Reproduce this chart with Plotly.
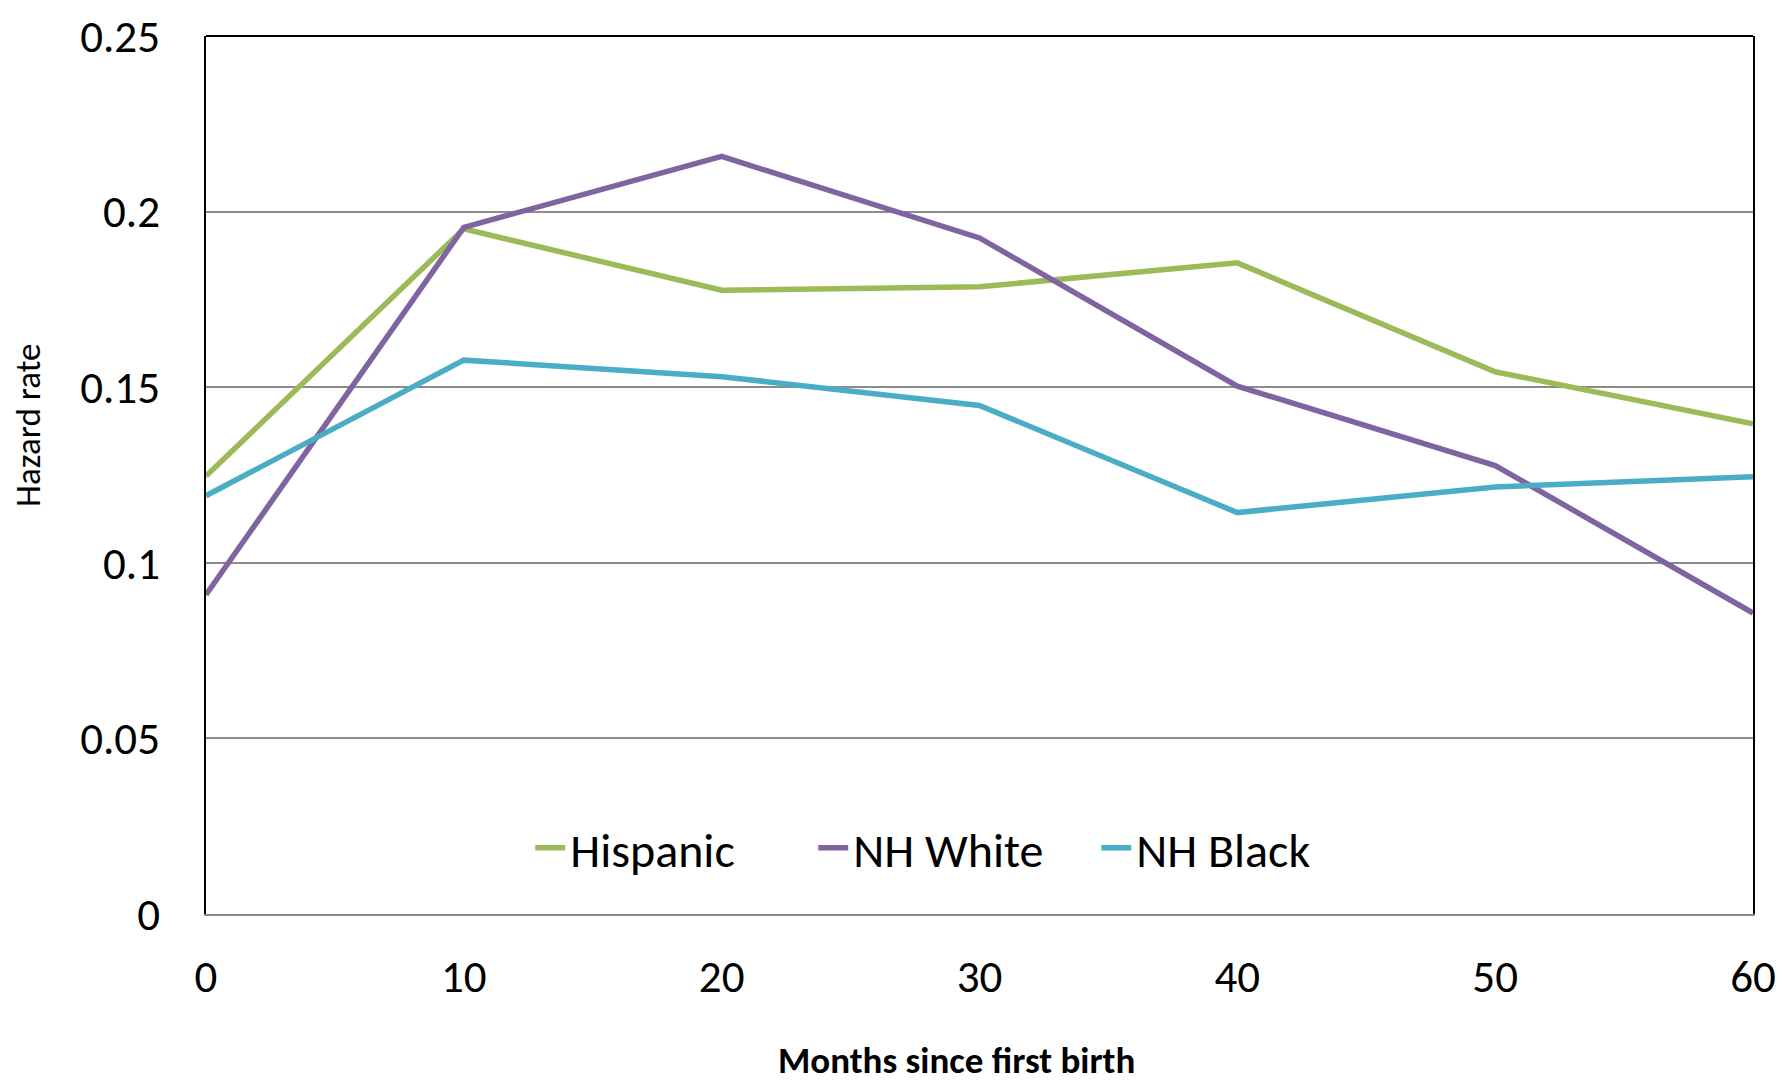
import plotly.graph_objects as go

months = [0, 10, 20, 30, 40, 50, 60]
hispanic = [0.1247, 0.1951, 0.1776, 0.1786, 0.1854, 0.1544, 0.1396]
nh_white = [0.0909, 0.1955, 0.2157, 0.1925, 0.1503, 0.1277, 0.0857]
nh_black = [0.1191, 0.1577, 0.1530, 0.1448, 0.1143, 0.1216, 0.1245]

series_names = ["Hispanic", "NH White", "NH Black"]
series_colors = ["#9BBB59", "#8064A2", "#4BACC6"]
y_ticks = [0, 0.05, 0.1, 0.15, 0.2, 0.25]
y_ticktext = ["0", "0.05", "0.1", "0.15", "0.2", "0.25"]

FONT = "Carlito, Lato, sans-serif"

# page body has an 8px margin; compensate so the figure fits the 1785x1084 window
W, H = 1777, 1076
T = 28
PLOT_H = 878

fig = go.Figure()
for name, vals, col in zip(series_names, [hispanic, nh_white, nh_black], series_colors):
    fig.add_trace(go.Scatter(x=months, y=vals, mode="lines", name=name,
                             line=dict(color=col, width=5.5)))

fig.update_layout(
    width=W, height=H,
    margin=dict(l=198, r=W - 198 - 1547, t=T, b=H - T - PLOT_H),
    paper_bgcolor="white", plot_bgcolor="white",
    font=dict(family=FONT, size=45, color="black"),
    showlegend=True,
    legend=dict(orientation="h", x=0.484, xanchor="center", y=0.075, yanchor="middle",
                font=dict(size=48, family=FONT), bgcolor="rgba(0,0,0,0)",
                itemwidth=30, entrywidth=238, entrywidthmode="pixels"),
    xaxis=dict(range=[0, 60], tickvals=months, ticktext=[str(m) for m in months],
               showgrid=False, zeroline=False, automargin=False,
               showline=True, linecolor="#888888", linewidth=2,
               ticks="", ticklabelstandoff=22, ticklabeloverflow="allow"),
    yaxis=dict(range=[0, 0.25], tickvals=y_ticks, ticktext=y_ticktext,
               showgrid=True, gridcolor="#8C8C8C", gridwidth=1.5, automargin=False,
               zeroline=False, showline=True, linecolor="black", linewidth=2, mirror=True,
               ticks="", ticklabelstandoff=35, ticklabeloverflow="allow"),
    annotations=[
        dict(text="<b>Months since first birth</b>", xref="paper", yref="paper",
             x=0.485, y=-0.1663, xanchor="center", yanchor="middle", showarrow=False,
             font=dict(size=37, family=FONT)),
        dict(text="Hazard rate", xref="paper", yref="paper", textangle=-90,
             x=-0.1151, y=0.557, xanchor="center", yanchor="middle", showarrow=False,
             font=dict(size=35, family=FONT)),
    ],
)

fig.add_shape(type="line", xref="paper", yref="paper", x0=0, x1=1, y0=1, y1=1,
              line=dict(color="black", width=2))

fig.write_html("out.html")
